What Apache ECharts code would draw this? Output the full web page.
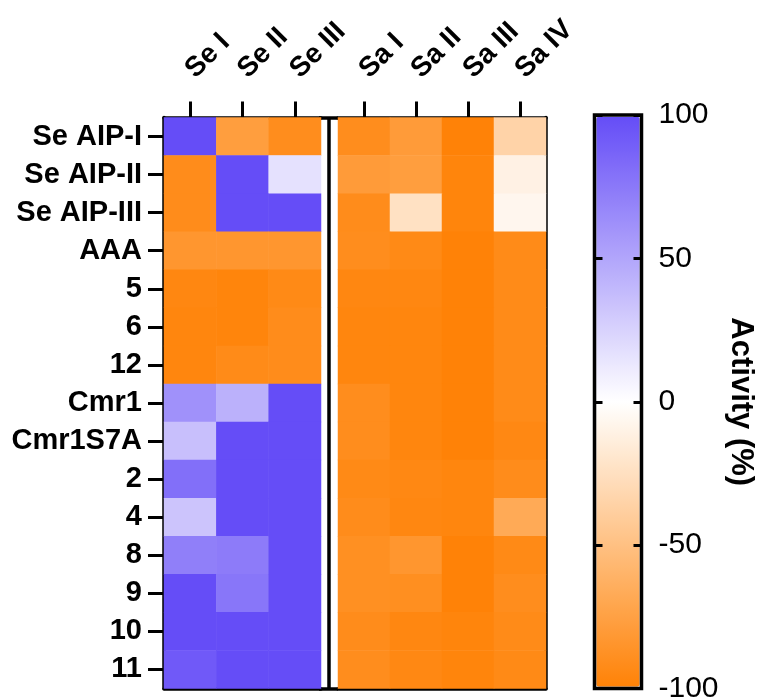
<!DOCTYPE html>
<html><head><meta charset="utf-8">
<script src="https://cdn.jsdelivr.net/npm/echarts@6/dist/echarts.min.js"></script>
<style>html,body{margin:0;padding:0;background:#fff}#c{width:761px;height:698px}</style>
</head><body><div id="c"></div>
<script>
// ---- data ----
const rowLabels = ['Se AIP-I','Se AIP-II','Se AIP-III','AAA','5','6','12','Cmr1','Cmr1S7A','2','4','8','9','10','11'];
const seCols = ['Se I','Se II','Se III'];
const saCols = ['Sa I','Sa II','Sa III','Sa IV'];
// activity (%) per row, columns Se I, Se II, Se III
const seValues = [
  [100,-78,-91],
  [-92,100,17],
  [-92,100,100],
  [-84,-84,-84],
  [-96,-98,-94],
  [-97,-98,-92],
  [-97,-93,-92],
  [62,44,100],
  [36,100,100],
  [81,100,100],
  [33,100,100],
  [72,74,100],
  [100,77,100],
  [100,100,100],
  [93,100,100]
];
// activity (%) per row, columns Sa I, Sa II, Sa III, Sa IV
const saValues = [
  [-91,-80,-100,-35],
  [-80,-78,-98,-11],
  [-92,-24,-98,-7],
  [-91,-94,-100,-93],
  [-96,-96,-100,-93],
  [-97,-97,-100,-93],
  [-97,-97,-100,-93],
  [-91,-97,-100,-93],
  [-91,-97,-100,-95],
  [-94,-95,-97,-92],
  [-92,-96,-97,-68],
  [-89,-84,-100,-94],
  [-89,-90,-100,-91],
  [-92,-96,-98,-93],
  [-91,-95,-98,-94]
];
const colorMin = -100, colorMax = 100, colorStep = 50;
const legendTitle = 'Activity (%)';

// ---- build ----
function toCells(matrix){
  const out = [];
  matrix.forEach((row, r) => row.forEach((v, c) => out.push([c, r, v])));
  return out;
}
const FONT = 'Liberation Sans, Arial, sans-serif';
const LW = 3.5;
const TOP = 117.5, H = 571;
function lineOnly(){ return { show: true, onZero: false, lineStyle: { color: '#000', width: LW } }; }
function noParts(){ return { axisTick: { show: false }, axisLabel: { show: false }, splitLine: { show: false } }; }
function xLabel(){ return { interval: 0, rotate: -45, margin: 44, color: '#000', fontFamily: FONT, fontWeight: 'bold', fontSize: 28 }; }
function topTick(){ return { show: true, length: 16, interval: 0, alignWithLabel: true, lineStyle: { color: '#000', width: 3 } }; }

const chart = echarts.init(document.getElementById('c'), null, { renderer: 'canvas' });
chart.setOption({
  animation: false,
  backgroundColor: '#fff',
  grid: [
    { left: 164, top: TOP, width: 157, height: H, outerBoundsMode: 'none' },
    { left: 338, top: TOP, width: 208, height: H, outerBoundsMode: 'none' },
    { left: 319, top: TOP, width: 19, height: H, outerBoundsMode: 'none' },
    { left: 594.5, top: 115, width: 47, height: 573.5, show: true, borderColor: '#000', borderWidth: LW,
      backgroundColor: 'transparent', z: 10, outerBoundsMode: 'none' }
  ],
  xAxis: [
    { gridIndex: 0, type: 'category', data: seCols, position: 'top', axisLine: lineOnly(),
      axisTick: topTick(), axisLabel: xLabel(), splitLine: { show: false } },
    Object.assign({ gridIndex: 0, type: 'category', data: seCols, position: 'bottom', axisLine: lineOnly() }, noParts()),
    { gridIndex: 1, type: 'category', data: saCols, position: 'top', axisLine: lineOnly(),
      axisTick: topTick(), axisLabel: xLabel(), splitLine: { show: false } },
    Object.assign({ gridIndex: 1, type: 'category', data: saCols, position: 'bottom', axisLine: lineOnly() }, noParts()),
    // separator between panels: a single centre rule (split line at value 1)
    { gridIndex: 2, type: 'value', position: 'top', min: 0, max: 2, interval: 1,
      axisLine: { show: false }, axisTick: { show: false }, axisLabel: { show: false },
      splitLine: { show: true, lineStyle: { color: ['rgba(0,0,0,0)', '#000', 'rgba(0,0,0,0)'], width: LW } } },
    { gridIndex: 3, type: 'value', min: 0, max: 1, show: false }
  ],
  yAxis: [
    { gridIndex: 0, type: 'category', data: rowLabels, inverse: true, position: 'left',
      axisLine: lineOnly(),
      axisTick: { show: true, length: 16, interval: 0, alignWithLabel: true, lineStyle: { color: '#000', width: 3 } },
      axisLabel: { interval: 0, margin: 22, color: '#000', fontFamily: FONT, fontWeight: 'bold', fontSize: 29 },
      splitLine: { show: false } },
    Object.assign({ gridIndex: 1, type: 'category', data: rowLabels, inverse: true, position: 'right', axisLine: lineOnly() }, noParts()),
    // separator: top and bottom frame pieces (split lines at 0 and 1)
    { gridIndex: 2, type: 'value', min: 0, max: 1, interval: 1,
      axisLine: { show: false }, axisTick: { show: false }, axisLabel: { show: false },
      splitLine: { show: true, lineStyle: { color: '#000', width: LW } } },
    { gridIndex: 3, type: 'value', min: colorMin, max: colorMax, interval: colorStep, position: 'left', z: 12,
      axisLine: { show: false },
      axisTick: { show: true, inside: true, length: 8, lineStyle: { color: '#000', width: 3 } },
      axisLabel: { show: false }, splitLine: { show: false } },
    { gridIndex: 3, type: 'value', min: colorMin, max: colorMax, interval: colorStep, position: 'right', z: 12,
      axisLine: { show: false },
      axisTick: { show: true, inside: true, length: 8, lineStyle: { color: '#000', width: 3 } },
      axisLabel: { show: true, margin: 17, color: '#000', fontFamily: FONT, fontSize: 30 },
      splitLine: { show: false },
      name: legendTitle, nameLocation: 'middle', nameRotate: -90, nameGap: 84,
      nameTextStyle: { color: '#000', fontFamily: FONT, fontWeight: 'bold', fontSize: 31 } }
  ],
  visualMap: {
    type: 'continuous', min: colorMin, max: colorMax, seriesIndex: [0, 1],
    calculable: false, show: true, orient: 'vertical',
    left: 596.25, top: 116.75, itemWidth: 43.5, itemHeight: 570, padding: 0,
    text: null, showLabel: false,
    inRange: { color: ['#FF8207', '#FFFFFF', '#654DF7'] }
  },
  series: [
    { type: 'heatmap', xAxisIndex: 0, yAxisIndex: 0, data: toCells(seValues),
      itemStyle: { borderWidth: 0 }, emphasis: { disabled: true } },
    { type: 'heatmap', xAxisIndex: 2, yAxisIndex: 1, data: toCells(saValues),
      itemStyle: { borderWidth: 0 }, emphasis: { disabled: true } }
  ]
});
</script>
</body></html>
